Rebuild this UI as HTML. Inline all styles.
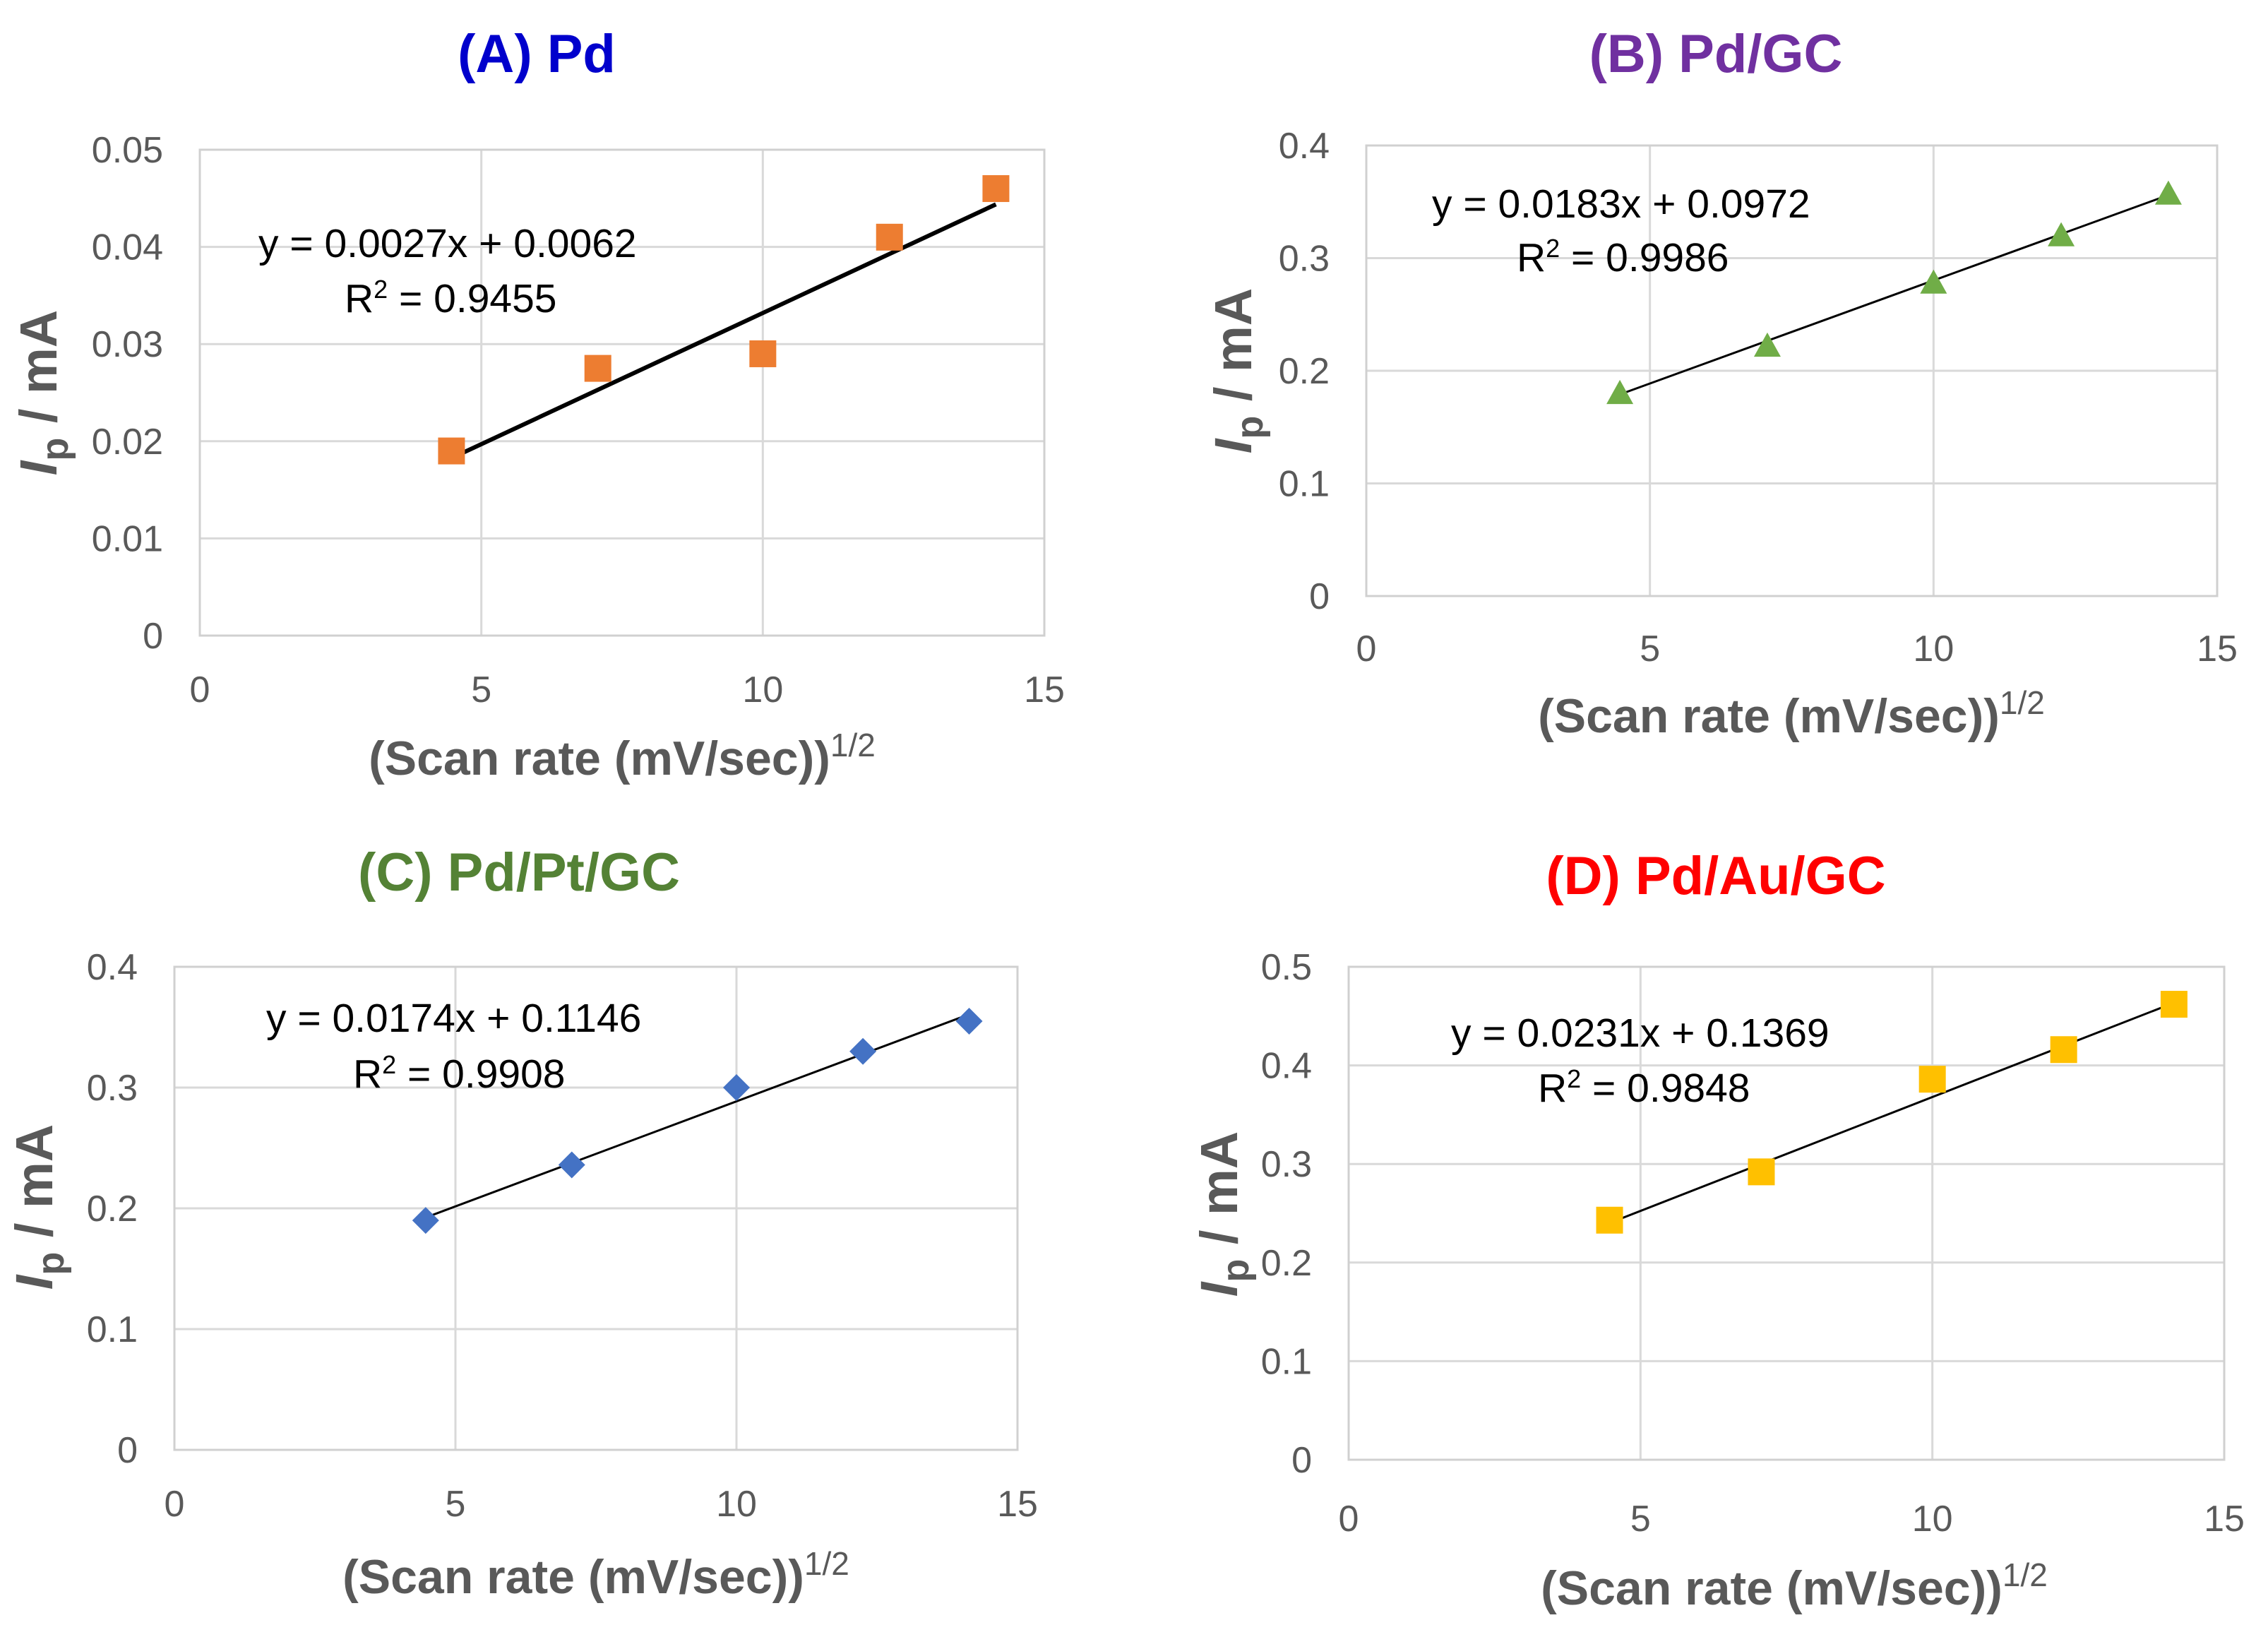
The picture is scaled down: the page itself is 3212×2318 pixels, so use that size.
<!DOCTYPE html>
<html><head><meta charset="utf-8"><style>
html,body{margin:0;padding:0;background:#fff}
svg{display:block}
text{font-family:"Liberation Sans",sans-serif}
</style></head><body>
<svg id="s" width="3212" height="2318" viewBox="0 0 3212 2318" xmlns="http://www.w3.org/2000/svg"></svg>
<script>
const xValues = [4.47, 7.07, 10, 12.25, 14.14];
const yA = [0.019, 0.0275, 0.029, 0.041, 0.046];
const yB = [0.18, 0.222, 0.278, 0.32, 0.357];
const yC = [0.19, 0.236, 0.3, 0.33, 0.355];
const yD = [0.243, 0.292, 0.386, 0.416, 0.462];
const xTicks = [0, 5, 10, 15];
const yTicksA = [0, 0.01, 0.02, 0.03, 0.04, 0.05];
const yTicksB = [0, 0.1, 0.2, 0.3, 0.4];
const yTicksC = [0, 0.1, 0.2, 0.3, 0.4];
const yTicksD = [0, 0.1, 0.2, 0.3, 0.4, 0.5];
const fitA = [0.0027, 0.0062], fitB = [0.0183, 0.0972], fitC = [0.0174, 0.1146], fitD = [0.0231, 0.1369];

const NS = "http://www.w3.org/2000/svg";
const svg = document.getElementById('s');
function mk(tag, attrs, parent, txt){
  const e = document.createElementNS(NS, tag);
  for (const k in attrs) e.setAttribute(k, attrs[k]);
  if (txt !== undefined) e.textContent = txt;
  (parent || svg).appendChild(e);
  return e;
}
function panel(p){
  const g = mk('g', {});
  
  
  const ymax = p.yTicks[p.yTicks.length-1];
  const sx = v => p.x0 + (v - 0) / 15 * (p.x1 - p.x0);
  const sy = v => p.y1 - v / ymax * (p.y1 - p.y0);
  const t = mk('text', {x:p.tx, y:p.ty+4, 'text-anchor':'middle', 'font-size':76, 'font-weight':'bold', fill:p.tcol}, g, p.title);
  
  
  xTicks.forEach(v => {
    const l = mk('line', {x1:sx(v), x2:sx(v), y1:p.y0, y2:p.y1, stroke:'#d9d9d9', 'stroke-width':3}, g);
    
    
    const tl = mk('text', {x:sx(v), y:p.xly, 'text-anchor':'middle', 'font-size':52, fill:'#595959'}, g, String(v));
    
    
  });
  p.yTicks.forEach(v => {
    const l = mk('line', {x1:p.x0, x2:p.x1, y1:sy(v), y2:sy(v), stroke:'#d9d9d9', 'stroke-width':3}, g);
    
    
    const tl = mk('text', {x:p.x0 - 52, y:sy(v) + 18, 'text-anchor':'end', 'font-size':52, fill:'#595959'}, g, String(v));
    
    
  });
  const fr = mk('rect', {x:p.x0, y:p.y0, width:p.x1-p.x0, height:p.y1-p.y0, fill:'none', stroke:'#d0d0d0', 'stroke-width':3}, g);
  
  
  const xa = xValues[0], xb = xValues[xValues.length-1];
  const tr = mk('line', {x1:sx(xa), y1:sy(p.fit[0]*xa+p.fit[1]), x2:sx(xb), y2:sy(p.fit[0]*xb+p.fit[1]), stroke:'#000', 'stroke-width':p.lw}, g);
  
  
  const r = 19;
  xValues.forEach((xv, i) => {
    const cx = sx(xv), cy = sy(p.ys[i]);
    let m;
    if (p.marker === 'square') m = mk('rect', {x:cx-r, y:cy-r, width:2*r, height:2*r, fill:p.mcol}, g);
    else if (p.marker === 'tri') m = mk('polygon', {points:`${cx},${cy-r} ${cx+r},${cy+r*0.8} ${cx-r},${cy+r*0.8}`, fill:p.mcol}, g);
    else m = mk('polygon', {points:`${cx},${cy-r} ${cx+r},${cy} ${cx},${cy+r} ${cx-r},${cy}`, fill:p.mcol}, g);
    
    
  });
  const e1 = mk('text', {x:p.ex, y:p.ey, 'font-size':57, fill:'#000'}, g, p.eq);
  
  
  const e2 = mk('text', {x:p.rx, y:p.ry, 'font-size':57, fill:'#000'}, g);
  
  
  e2.innerHTML = 'R<tspan dy="-20" font-size="36">2</tspan><tspan dy="20"> = ' + p.r2 + '</tspan>';
  const xt = mk('text', {x:p.xtx, y:p.xty, 'text-anchor':'middle', 'font-size':68, 'font-weight':'bold', fill:'#595959'}, g);
  
  
  xt.innerHTML = '(Scan rate (mV/sec))<tspan dy="-26" font-size="46" font-weight="normal">1/2</tspan>';
  const yt = mk('text', {x:0, y:0, 'text-anchor':'middle', 'font-size':74, 'font-weight':'bold', fill:'#595959', transform:`translate(${p.ylx},${p.yly}) rotate(-90)`}, g);
  
  
  yt.innerHTML = '<tspan font-style="italic">I</tspan><tspan dy="16" font-size="54">p</tspan><tspan dy="-16"> / mA</tspan>';
}
panel({id:'a', title:'(A) Pd', tcol:'#0000CC', tx:760, ty:98, x0:283, x1:1479, y0:212, y1:900, yTicks:yTicksA, ys:yA, fit:fitA, lw:6, marker:'square', mcol:'#ED7D31', eq:'y = 0.0027x + 0.0062', ex:366, ey:364, r2:'0.9455', rx:488, ry:442, xly:994, xtx:881, xty:1097, ylx:80, yly:556});
panel({id:'b', title:'(B) Pd/GC', tcol:'#7030A0', tx:2430, ty:98, x0:1935, x1:3140, y0:206, y1:844, yTicks:yTicksB, ys:yB, fit:fitB, lw:3, marker:'tri', mcol:'#70AD47', eq:'y = 0.0183x + 0.0972', ex:2028, ey:308, r2:'0.9986', rx:2148, ry:384, xly:936, xtx:2537, xty:1037, ylx:1772, yly:525});
panel({id:'c', title:'(C) Pd/Pt/GC', tcol:'#548235', tx:735, ty:1257, x0:247, x1:1441, y0:1369, y1:2053, yTicks:yTicksC, ys:yC, fit:fitC, lw:3, marker:'diamond', mcol:'#4472C4', eq:'y = 0.0174x + 0.1146', ex:377, ey:1461, r2:'0.9908', rx:500, ry:1540, xly:2147, xtx:844, xty:2256, ylx:74, yly:1709});
panel({id:'d', title:'(D) Pd/Au/GC', tcol:'#FF0000', tx:2430, ty:1262, x0:1910, x1:3150, y0:1369, y1:2067, yTicks:yTicksD, ys:yD, fit:fitD, lw:3, marker:'square', mcol:'#FFC000', eq:'y = 0.0231x + 0.1369', ex:2055, ey:1482, r2:'0.9848', rx:2178, ry:1560, xly:2168, xtx:2541, xty:2272, ylx:1752, yly:1719});
</script>
</body></html>
